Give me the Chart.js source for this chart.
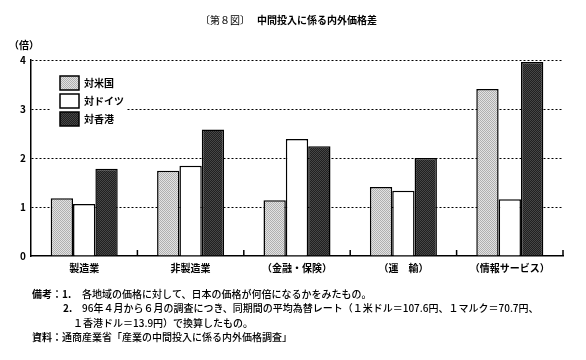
<!DOCTYPE html>
<html lang="ja">
<head>
<meta charset="utf-8">
<title>中間投入に係る内外価格差</title>
<script src="https://cdn.jsdelivr.net/npm/chart.js@4/dist/chart.umd.min.js"></script>
<style>
  html, body { margin: 0; padding: 0; background: #fff; }
  #wrap { width: 586px; height: 360px; }
</style>
</head>
<body>
<div id="wrap"><canvas id="priceGapChart" width="586" height="360"></canvas></div>
<script>
// chart data
const categories = ["製造業", "非製造業", "（金融・保険）", "（運　輸）", "（情報サービス）"];
const seriesNames = ["対米国", "対ドイツ", "対香港"];
const usValues = [1.18, 1.74, 1.14, 1.41, 3.41];
const deValues = [1.06, 1.84, 2.39, 1.33, 1.16];
const hkValues = [1.78, 2.58, 2.24, 2.0, 3.96];
const yTicks = [0, 1, 2, 3, 4];

const FONT = '"Noto Sans CJK JP", "Noto Sans", sans-serif';

// Small checker tone so the fills look like the printed screen tones
function makeTone(a, b) {
  const c = document.createElement("canvas");
  c.width = 2;
  c.height = 2;
  const g = c.getContext("2d");
  g.fillStyle = a;
  g.fillRect(0, 0, 2, 2);
  g.fillStyle = b;
  g.fillRect(0, 0, 1, 1);
  g.fillRect(1, 1, 1, 1);
  return g.createPattern(c, "repeat");
}

const fills = [
  makeTone("#e2e2e2", "#b0b0b0"),
  "#ffffff",
  makeTone("#202020", "#464646"),
];

// Legend, axis notches and all the captions are drawn by hand
const figurePlugin = {
  id: "figureText",
  beforeDatasetsDraw: function (chart) {
    const ctx = chart.ctx;
    ctx.save();
    // legend sits on a white box that hides the dashed grid behind it
    ctx.fillStyle = "#fff";
    ctx.fillRect(50, 70, 76, 62);
    const rows = [76, 94, 112];
    rows.forEach(function (y, i) {
      ctx.fillStyle = fills[i];
      ctx.fillRect(60, y, 19, 14);
      ctx.lineWidth = 1.5;
      ctx.strokeStyle = "#000";
      ctx.strokeRect(60, y, 19, 14);
      ctx.fillStyle = "#000";
      ctx.font = "bold 10px " + FONT;
      ctx.textBaseline = "middle";
      ctx.textAlign = "left";
      ctx.fillText(seriesNames[i], 84, y + 7.5);
    });
    ctx.restore();
  },
  afterDraw: function (chart) {
    const ctx = chart.ctx;
    const area = chart.chartArea;
    const xs = chart.scales.x;
    ctx.save();

    // short upward notches between categories
    ctx.strokeStyle = "#000";
    ctx.lineWidth = 1.5;
    for (let i = 0; i < categories.length; i++) {
      let bx;
      if (i === categories.length - 1) {
        bx = area.right;
      } else {
        bx = (xs.getPixelForValue(i) + xs.getPixelForValue(i + 1)) / 2;
      }
      ctx.beginPath();
      ctx.moveTo(bx, area.bottom);
      ctx.lineTo(bx, area.bottom - 6);
      ctx.stroke();
    }

    ctx.fillStyle = "#000";
    ctx.textBaseline = "middle";

    // title
    ctx.textAlign = "left";
    ctx.font = "10px " + FONT;
    ctx.fillText("〔第８図〕", 200, 20);
    ctx.font = "bold 10px " + FONT;
    ctx.fillText("中間投入に係る内外価格差", 257, 20);

    // unit label
    ctx.font = "bold 10px " + FONT;
    ctx.fillText("（倍）", 9, 45);

    // notes
    ctx.font = "bold 10px " + FONT;
    ctx.fillText("備考：1.", 32, 294);
    ctx.fillText("2.", 63, 308);
    ctx.fillText("資料：", 32, 337);
    ctx.font = "500 10px " + FONT;
    ctx.fillText("各地域の価格に対して、日本の価格が何倍になるかをみたもの。", 82, 294);
    ctx.fillText("96年４月から６月の調査につき、同期間の平均為替レート（１米ドル＝107.6円、１マルク＝70.7円、", 82, 308);
    ctx.fillText("１香港ドル＝13.9円）で換算したもの。", 73, 323);
    ctx.fillText("通商産業省「産業の中間投入に係る内外価格調査」", 62, 337);

    ctx.restore();
  },
};

const datasets = [usValues, deValues, hkValues].map(function (vals, i) {
  return {
    label: seriesNames[i],
    data: vals,
    backgroundColor: fills[i],
    borderColor: "#000",
    borderWidth: 1.5,
    borderSkipped: "start",
    categoryPercentage: 0.63,
    barPercentage: 1.0,
  };
});

new Chart(document.getElementById("priceGapChart"), {
  type: "bar",
  data: { labels: categories, datasets: datasets },
  plugins: [figurePlugin],
  options: {
    responsive: false,
    animation: false,
    devicePixelRatio: 1,
    layout: { padding: { top: 60, right: 23, left: 0, bottom: 0 } },
    plugins: {
      legend: { display: false },
      title: { display: false },
      tooltip: { enabled: false },
    },
    scales: {
      x: {
        grid: { display: false, drawTicks: false },
        border: { display: true, color: "#000", width: 1.5 },
        ticks: {
          color: "#000",
          padding: 6,
          maxRotation: 0,
          autoSkip: false,
          font: { family: FONT, size: 10, weight: "bold" },
        },
        afterFit: function (s) {
          s.height = 104;
        },
      },
      y: {
        min: 0,
        max: 4,
        afterBuildTicks: function (s) {
          s.ticks = yTicks.map(function (v) {
            return { value: v };
          });
        },
        grid: {
          drawTicks: false,
          lineWidth: 1,
          color: function (c) {
            return c.tick && c.tick.value === 0 ? "rgba(0,0,0,0)" : "#000";
          },
        },
        border: { display: true, color: "#000", width: 1.5, dash: [2, 2] },
        ticks: {
          color: "#000",
          padding: 5,
          font: { family: FONT, size: 10, weight: "bold" },
        },
        afterFit: function (s) {
          s.width = 31;
        },
      },
    },
  },
});
</script>
</body>
</html>
